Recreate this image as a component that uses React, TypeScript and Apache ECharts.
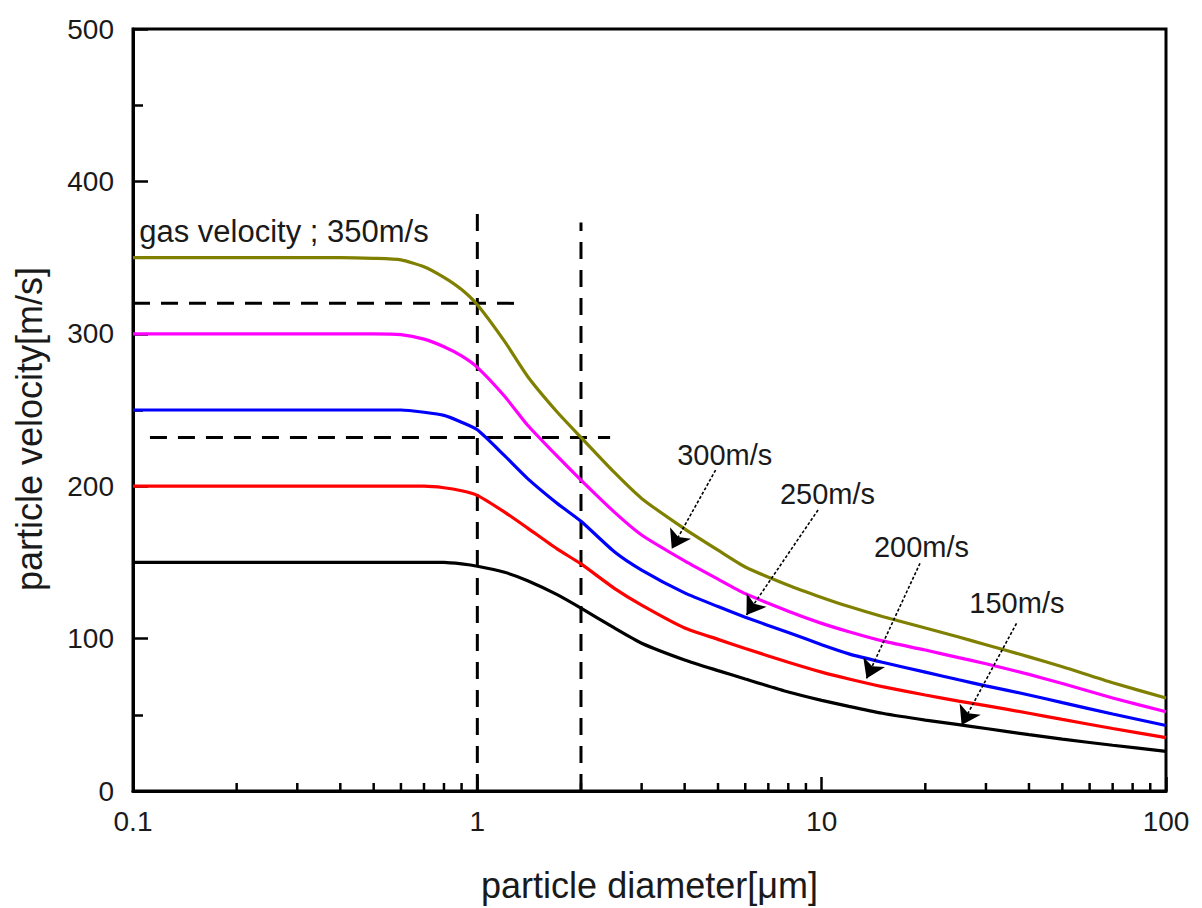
import React, { useEffect, useRef } from "react";
import * as echarts from "echarts";

// particle diameter [µm]
const diameters = [0.1, 0.2, 0.3, 0.4, 0.5, 0.6, 0.7, 0.8, 0.9, 1, 1.2, 1.4, 1.7, 2, 2.5, 3, 4, 5, 6, 8, 10, 12, 15, 20, 25, 30, 40, 50, 70, 100];

// particle velocity [m/s] per gas velocity
const v350 = [350, 350, 350, 350, 349.5, 348.5, 344, 337, 329, 319, 295, 272, 249, 232, 209, 192, 172, 158, 147, 135, 127, 121, 114.5, 107, 101, 96, 88, 81.5, 71, 61];
const v300 = [300, 300, 300, 300, 300, 299.5, 296.5, 291.5, 285.5, 278, 259, 240, 220, 204, 183, 168, 151, 139, 129.5, 118, 110, 104.5, 98.5, 92.5, 87.5, 83.5, 76.5, 70.5, 61, 52];
const v250 = [250, 250, 250, 250, 250, 250, 248.5, 246.5, 242, 237, 220, 205, 189, 177, 157, 145, 130, 121, 114, 104, 96, 90, 84.5, 78, 73, 69, 63, 58, 50.5, 43];
const v200 = [200, 200, 200, 200, 200, 200, 200, 199, 197, 194, 183, 172.5, 159, 149, 133, 122, 107, 99.5, 93.5, 84.5, 78, 73.5, 68.5, 63, 59, 56, 51, 47, 41, 35];
const v150 = [150, 150, 150, 150, 150, 150, 150, 150, 149, 147.5, 143.5, 138, 129, 120, 107, 97, 86, 79, 73.5, 65, 59.5, 55.5, 51, 46.5, 43.5, 41, 37, 34, 30, 26];

const seriesNames = ["350m/s", "300m/s", "250m/s", "200m/s", "150m/s"];
const seriesColors = ["#808000", "#ff00ff", "#0000ff", "#ff0000", "#000000"];

// dashed guide lines
const guideV1 = [[1, 0], [1, 380]];
const guideV2 = [[2, 0], [2, 373]];
const guideH320 = [[0.1, 320], [1.35, 320]];
const guideH232 = [[0.112, 232], [2.43, 232]];

// x-axis minor ticks
const xMinorTicks = [0.2, 0.3, 0.4, 0.5, 0.6, 0.7, 0.8, 0.9, 2, 3, 4, 5, 6, 7, 8, 9, 20, 30, 40, 50, 60, 70, 80, 90];
const xTickLabels = ["0.1", "1", "10", "100"];

// annotations
const arrowLabels = ["300m/s", "250m/s", "200m/s", "150m/s"];
const arrowLabelPos = [[5.23, 220.5], [10.4, 194.9], [19.5, 160.1], [36.9, 123.4]];
const arrowFrom = [[4.92, 210.6], [9.76, 184.4], [19.3, 149.4], [36.8, 110]];
const arrowTo = [[3.67, 159], [6.05, 115.5], [13.5, 73.9], [25.5, 43.3]];
const gasLabel = "gas velocity ; 350m/s";
const gasLabelPos = [0.1039, 366.8];

const FONT = "'Liberation Sans', Arial, sans-serif";

export default function App() {
  const ref = useRef<HTMLDivElement>(null);
  useEffect(() => {
    if (!ref.current) return;
    const chart = echarts.init(ref.current, null, { renderer: "svg" });
    const curves = [v350, v300, v250, v200, v150];
    const curveSeries = curves.map((vals, i) => ({
      type: "line",
      name: seriesNames[i],
      data: diameters.map((d, j) => [d, vals[j]]),
      showSymbol: false,
      smooth: 0.2,
      lineStyle: { color: seriesColors[i], width: 3.2 },
      z: 3,
    }));
    const guides = [guideV1, guideV2, guideH320, guideH232].map((g) => ({
      type: "line",
      data: g,
      showSymbol: false,
      lineStyle: { color: "#000", width: 3, type: [17, 11] },
      z: 2,
    }));
    const option: any = {
      animation: false,
      backgroundColor: "#fff",
      textStyle: { fontFamily: FONT },
      grid: {
        left: 133,
        right: 36,
        top: 29,
        bottom: 117,
        show: true,
        borderColor: "#000",
        borderWidth: 3,
      },
      xAxis: {
        type: "log",
        logBase: 10,
        min: 0.1,
        max: 100,
        name: "particle diameter[\u03bcm]",
        nameLocation: "middle",
        nameGap: 76,
        nameTextStyle: { fontSize: 36, color: "#1a1a1a", fontFamily: FONT },
        axisLine: { lineStyle: { color: "#000", width: 3 } },
        axisTick: { inside: true, length: 14, lineStyle: { color: "#000", width: 2.5 } },
        splitLine: { show: false },
        axisLabel: {
          fontSize: 28,
          color: "#1a1a1a",
          margin: 16,
          fontFamily: FONT,
          formatter: (v: number) => {
            const idx = Math.round(Math.log10(v)) + 1;
            return xTickLabels[idx] ?? String(v);
          },
        },
      },
      yAxis: {
        type: "value",
        min: 0,
        max: 500,
        interval: 100,
        name: "particle velocity[m/s]",
        nameLocation: "middle",
        nameGap: 86,
        nameTextStyle: { fontSize: 36, color: "#1a1a1a", fontFamily: FONT, padding: [0, 38, 0, 0] },
        axisLine: { show: true, lineStyle: { color: "#000", width: 3 } },
        axisTick: { show: true, inside: true, length: 15, lineStyle: { color: "#000", width: 2.5 } },
        minorTick: { show: true, splitNumber: 2, length: 10, lineStyle: { color: "#000", width: 2.5 } },
        splitLine: { show: false },
        axisLabel: { fontSize: 28, color: "#1a1a1a", margin: 19, fontFamily: FONT },
      },
      series: [
        ...guides,
        ...curveSeries,
        {
          type: "custom",
          data: xMinorTicks.map((x) => [x, 0]),
          clip: false,
          renderItem: (params: any, api: any) => {
            const p = api.coord([api.value(0), 0]);
            return {
              type: "line",
              shape: { x1: p[0], y1: p[1], x2: p[0], y2: p[1] - 8 },
              style: { stroke: "#000", lineWidth: 2.5 },
            };
          },
          z: 4,
        },
        {
          type: "line",
          data: [],
          silent: true,
          markLine: {
            silent: true,
            symbol: ["none", "arrow"],
            symbolSize: 18,
            label: { show: false },
            lineStyle: { color: "#000", width: 1.6, type: [3, 2] },
            data: arrowFrom.map((f, i) => [{ coord: f }, { coord: arrowTo[i] }]),
          },
          markPoint: {
            silent: true,
            symbol: "circle",
            symbolSize: 1,
            itemStyle: { color: "rgba(0,0,0,0)" },
            data: [
              ...arrowLabels.map((t, i) => ({
                coord: arrowLabelPos[i],
                label: {
                  show: true,
                  position: "inside",
                  formatter: t,
                  fontSize: 29,
                  color: "#1a1a1a",
                  fontFamily: FONT,
                },
              })),
              {
                coord: gasLabelPos,
                label: {
                  show: true,
                  position: "right",
                  distance: 0,
                  formatter: gasLabel,
                  fontSize: 31,
                  color: "#1a1a1a",
                  fontFamily: FONT,
                },
              },
            ],
          },
        },
      ],
    };
    chart.setOption(option);
    return () => chart.dispose();
  }, []);
  return (
    <div
      ref={ref}
      style={{ position: "absolute", left: 0, top: 0, width: 1202, height: 908 }}
    />
  );
}
